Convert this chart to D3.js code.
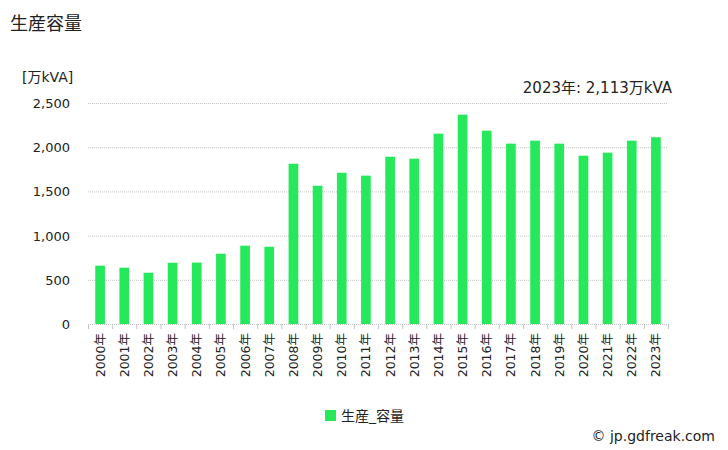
<!DOCTYPE html>
<html><head><meta charset="utf-8">
<script src="https://cdn.jsdelivr.net/npm/d3@7"></script>
<style>body{margin:0;background:#fff}svg{font-family:"DejaVu Sans","Noto Sans CJK JP",sans-serif}</style>
</head><body><svg id="c" width="728" height="450"></svg>
<script>
const years = ["2000年","2001年","2002年","2003年","2004年","2005年","2006年","2007年","2008年","2009年","2010年","2011年","2012年","2013年","2014年","2015年","2016年","2017年","2018年","2019年","2020年","2021年","2022年","2023年"];
const values = [660,637,580,693,695,795,886,874,1813,1564,1711,1678,1892,1870,2153,2368,2187,2040,2074,2040,1904,1938,2074,2113];
const yTicks = [0,500,1000,1500,2000,2500];

const svg = d3.select("#c");
const L=88,R=668,T=103,B=324;
const x = d3.scaleBand().domain(years).range([L,R]).paddingInner(0.6).paddingOuter(0.3);
const xb = d3.scaleBand().domain(years).range([L,R]);
const y = d3.scaleLinear().domain([0,2500]).range([B,T]);

svg.append("text").attr("x",10).attr("y",30).attr("font-size",18).attr("fill","#222").text("生産容量");
svg.append("text").attr("x",22).attr("y",82).attr("font-size",14).attr("fill","#222").text("[万kVA]");

svg.append("g").selectAll("line").data(yTicks).join("line")
  .attr("x1",L).attr("x2",R).attr("y1",d=>y(d)+0.5).attr("y2",d=>y(d)+0.5)
  .attr("stroke","#c4c4c4").attr("stroke-dasharray","1,1");
svg.append("g").selectAll("text").data(yTicks).join("text")
  .attr("x",70).attr("y",d=>y(d)+5).attr("text-anchor","end").attr("font-size",13).attr("fill","#222")
  .text(d=>d3.format(",")(d));

svg.append("g").selectAll("rect").data(values).join("rect")
  .attr("x",(d,i)=>x(years[i])).attr("width",x.bandwidth())
  .attr("y",d=>y(d)).attr("height",d=>B-y(d)).attr("fill","#25e85a");

// x ticks
const bounds = years.map(d=>xb(d)).concat([R]);
svg.append("g").selectAll("line").data(bounds).join("line")
  .attr("x1",d=>d+0.5).attr("x2",d=>d+0.5).attr("y1",B).attr("y2",B+5).attr("stroke","#c4c4c4");
svg.append("g").selectAll("text").data(years).join("text")
  .attr("transform",d=>`translate(${xb(d)+xb.bandwidth()/2+4.5},333) rotate(-90)`)
  .attr("text-anchor","end").attr("font-size",12.5).attr("fill","#222").text(d=>d);

svg.append("text").attr("x",672).attr("y",93).attr("text-anchor","end").attr("font-size",15).attr("fill","#222")
  .text("2023年: "+d3.format(",")(values[values.length-1])+"万kVA");

svg.append("rect").attr("x",325).attr("y",410).attr("width",11).attr("height",11).attr("fill","#25e85a");
svg.append("text").attr("x",341).attr("y",421).attr("font-size",14).attr("fill","#222").text("生産_容量");
svg.append("text").attr("x",715).attr("y",441).attr("text-anchor","end").attr("font-size",14).attr("fill","#222").text("© jp.gdfreak.com");
</script></body></html>
